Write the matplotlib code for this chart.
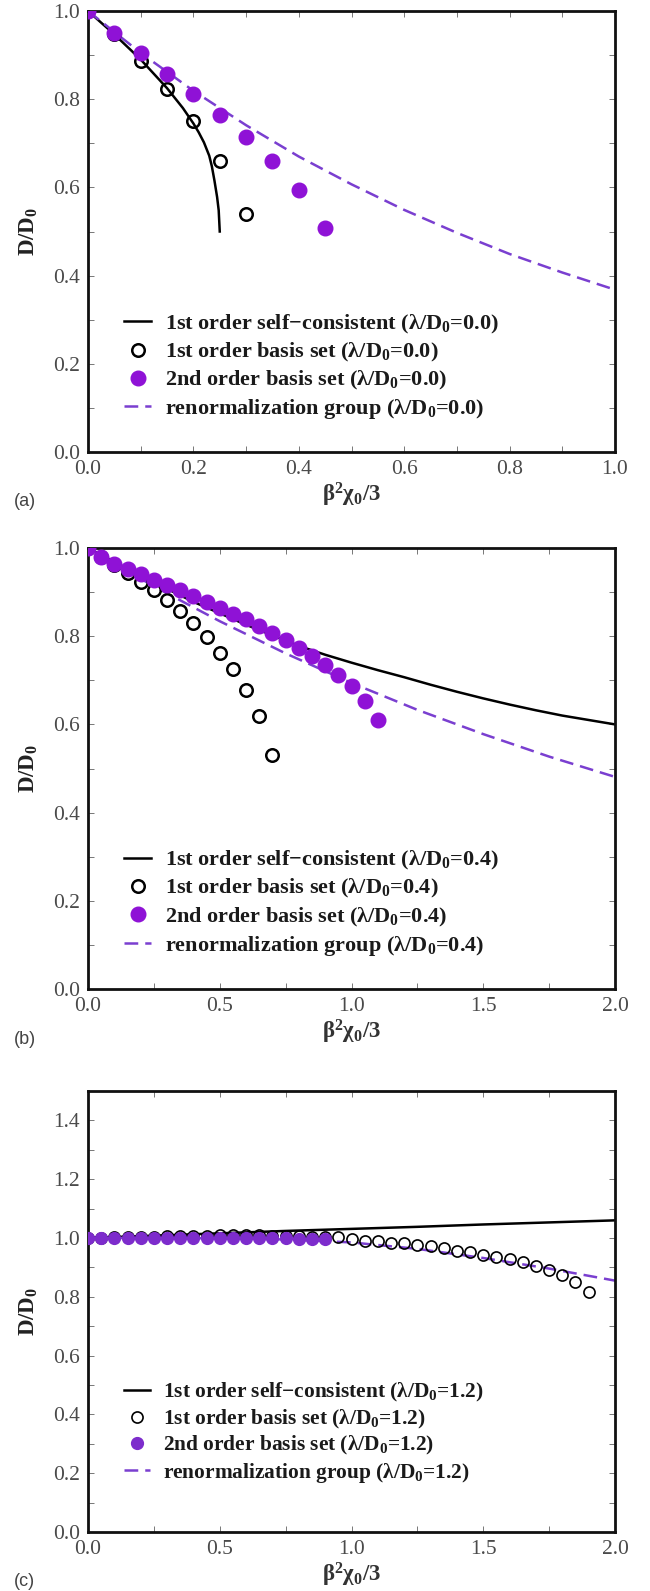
import matplotlib
matplotlib.use("Agg")
import matplotlib.pyplot as plt
from matplotlib.ticker import MultipleLocator, FormatStrFormatter
from matplotlib.legend_handler import HandlerLine2D
from matplotlib.lines import Line2D

plt.rcParams['font.family'] = ['Liberation Serif', 'DejaVu Serif']
plt.rcParams['mathtext.fontset'] = 'custom'
plt.rcParams['mathtext.rm'] = 'Liberation Serif'
plt.rcParams['mathtext.bf'] = 'Liberation Serif:bold'
plt.rcParams['mathtext.it'] = 'Liberation Serif:italic'

# ---------------- Panel (a): lambda/D0 = 0.0 ----------------
a_sc_x = [0.0, 0.05, 0.10, 0.15, 0.18, 0.20, 0.21, 0.22, 0.23, 0.235, 0.24, 0.245, 0.248, 0.25]
a_sc_y = [1.0, 0.947, 0.890, 0.825, 0.780, 0.745, 0.725, 0.702, 0.672, 0.648, 0.615, 0.578,
          0.548, 0.50]
a_b1_x = [0.0, 0.05, 0.10, 0.15, 0.20, 0.25, 0.30]
a_b1_y = [1.0, 0.947, 0.886, 0.824, 0.750, 0.660, 0.540]
a_b2_x = [0.0, 0.05, 0.10, 0.15, 0.20, 0.25, 0.30, 0.35, 0.40, 0.45]
a_b2_y = [1.0, 0.949, 0.905, 0.858, 0.811, 0.764, 0.714, 0.660, 0.595, 0.509]
a_rg_x = [0.0, 0.1, 0.2, 0.3, 0.4, 0.5, 0.6, 0.7, 0.8, 0.9, 1.0]
a_rg_y = [1.0, 0.905, 0.819, 0.741, 0.670, 0.607, 0.549, 0.497, 0.449, 0.407, 0.368]

# ---------------- Panel (b): lambda/D0 = 0.4 ----------------
b_sc_x = [0.0, 0.2, 0.4, 0.6, 0.8, 0.9, 1.0, 1.1, 1.2, 1.3, 1.4, 1.5, 1.6, 1.7, 1.8, 1.9, 2.0]
b_sc_y = [1.0, 0.937, 0.878, 0.826, 0.778, 0.758, 0.740, 0.723, 0.707, 0.690, 0.674, 0.659,
          0.645, 0.632, 0.620, 0.610, 0.600]
b_b1_x = [0.0, 0.05, 0.10, 0.15, 0.20, 0.25, 0.30, 0.35, 0.40, 0.45, 0.50, 0.55, 0.60, 0.65, 0.70]
b_b1_y = [1.0, 0.980, 0.962, 0.943, 0.924, 0.905, 0.882, 0.857, 0.829, 0.799, 0.763, 0.725,
          0.678, 0.619, 0.530]
b_b2_x = [0.0, 0.05, 0.10, 0.15, 0.20, 0.25, 0.30, 0.35, 0.40, 0.45, 0.50, 0.55, 0.60, 0.65,
          0.70, 0.75, 0.80, 0.85, 0.90, 0.95, 1.00, 1.05, 1.10]
b_b2_y = [1.0, 0.980, 0.963, 0.952, 0.940, 0.927, 0.916, 0.904, 0.891, 0.878, 0.864, 0.851,
          0.838, 0.823, 0.808, 0.791, 0.773, 0.756, 0.735, 0.711, 0.686, 0.652, 0.610]
b_rg_x = [0.0, 0.25, 0.5, 0.75, 1.0, 1.25, 1.5, 1.75, 2.0]
b_rg_y = [1.0, 0.913, 0.834, 0.761, 0.694, 0.633, 0.578, 0.527, 0.481]

# ---------------- Panel (c): lambda/D0 = 1.2 ----------------
c_sc_x = [0.0, 0.25, 0.5, 0.75, 1.0, 1.25, 1.5, 1.75, 2.0]
c_sc_y = [1.0, 1.008, 1.016, 1.024, 1.031, 1.038, 1.046, 1.053, 1.060]
c_b1_x = [0.00, 0.05, 0.10, 0.15, 0.20, 0.25, 0.30, 0.35, 0.40, 0.45, 0.50, 0.55, 0.60, 0.65,
          0.70, 0.75, 0.80, 0.85, 0.90, 0.95, 1.00, 1.05, 1.10, 1.15, 1.20, 1.25, 1.30, 1.35,
          1.40, 1.45, 1.50, 1.55, 1.60, 1.65, 1.70, 1.75, 1.80, 1.85, 1.90]
c_b1_y = [1.000, 1.001, 1.002, 1.003, 1.004, 1.005, 1.006, 1.007, 1.008, 1.008, 1.009, 1.009,
          1.009, 1.009, 1.008, 1.008, 1.007, 1.005, 1.004, 1.002, 0.997, 0.991, 0.989, 0.983,
          0.982, 0.976, 0.972, 0.966, 0.957, 0.954, 0.942, 0.937, 0.927, 0.918, 0.906, 0.892,
          0.875, 0.852, 0.816]
c_b2_x = [0.00, 0.05, 0.10, 0.15, 0.20, 0.25, 0.30, 0.35, 0.40, 0.45, 0.50, 0.55, 0.60, 0.65,
          0.70, 0.75, 0.80, 0.85, 0.90]
c_b2_y = [1.0, 1.0, 1.0, 1.0, 1.0, 1.0, 1.0, 1.0, 1.0, 1.0, 1.0, 1.0, 1.0, 0.999, 0.999,
          0.999, 0.998, 0.998, 0.997]
c_rg_x = [0.0, 0.25, 0.5, 0.75, 1.0, 1.25, 1.5, 1.75, 2.0]
c_rg_y = [1.0, 1.0, 0.999, 0.995, 0.985, 0.963, 0.932, 0.896, 0.855]

lam_labels = ["0.0", "0.4", "1.2"]
panel_tags = ["(a)", "(b)", "(c)"]

PURPLE_DOT = '#8f12d6'
PURPLE_DOT_C = '#7d2ccc'
PURPLE_DASH = '#7a3fd0'

W, H = 650, 1591
fig = plt.figure(figsize=(W / 100, H / 100), dpi=100)

ax_left, ax_w = 88 / W, 527 / W
tops = [11, 548, 1091]
ax_h = 441 / H
axes = []
for t in tops:
    axes.append(fig.add_axes([ax_left, 1 - (t + 441) / H, ax_w, ax_h]))


class RightMarkerHandler(HandlerLine2D):
    """Legend handler that puts a single marker at the right end of the handle."""
    def get_xdata(self, legend, xdescent, ydescent, width, height, fontsize):
        xdata = [-xdescent, -xdescent + width]
        xmark = [-xdescent + 0.88 * width]
        return xdata, xmark


def style(ax, xmax, xmaj, xmin, ymax):
    ax.set_xlim(0, xmax)
    ax.set_ylim(0, ymax)
    ax.xaxis.set_major_locator(MultipleLocator(xmaj))
    ax.xaxis.set_minor_locator(MultipleLocator(xmin))
    ax.yaxis.set_major_locator(MultipleLocator(0.2))
    ax.yaxis.set_minor_locator(MultipleLocator(0.1))
    ax.xaxis.set_major_formatter(FormatStrFormatter('%.1f'))
    ax.yaxis.set_major_formatter(FormatStrFormatter('%.1f'))
    ax.tick_params(which='both', direction='in', top=True, right=True, length=4,
                   width=0.7, color='#777777')
    ax.tick_params(which='major', labelsize=15.5, labelcolor='#4a4a4a', pad=6)
    for s in ax.spines.values():
        s.set_linewidth(2.0)
        s.set_color('#111111')
    ax.set_xlabel(r'β$^{\mathbf{2}}$χ$_{\mathbf{0}}$/3', fontsize=16.5, fontweight='bold',
                  color='#333333', labelpad=1)
    ax.set_ylabel(r'D/D$_{\mathbf{0}}$', fontsize=16.5, fontweight='bold', color='#222222',
                  labelpad=9)


def draw(ax, sc, b1, b2, rg, lam, dot_ms, circ_ms, circ_mew, dotc, leg_anchor, leg_fs, lsp):
    ax.plot(sc[0], sc[1], color='black', lw=1.8, zorder=2,
            label=f'1st order self−consistent (λ/D$_\\mathbf{{0}}$={lam})')
    ax.plot(rg[0], rg[1], color=PURPLE_DASH, lw=1.8, ls=(0, (5.5, 2.8)), zorder=2,
            label=f'renormalization group (λ/D$_\\mathbf{{0}}$={lam})')
    ax.plot(b1[0], b1[1], ls='none', marker='o', ms=circ_ms, mfc='none', mec='black',
            mew=circ_mew, zorder=3, label=f'1st order basis set (λ/D$_\\mathbf{{0}}$={lam})')
    ax.plot(b2[0], b2[1], ls='none', marker='o', ms=dot_ms, mfc=dotc, mec=dotc,
            zorder=4, label=f'2nd order basis set (λ/D$_\\mathbf{{0}}$={lam})')
    h, l = ax.get_legend_handles_labels()
    order = [0, 2, 3, 1]
    leg = ax.legend([h[i] for i in order], [l[i] for i in order], loc='lower left',
                    bbox_to_anchor=leg_anchor, frameon=False,
                    handlelength=1.22, handletextpad=0.6, labelspacing=lsp,
                    borderpad=0, borderaxespad=0, numpoints=1,
                    prop={'weight': 'bold', 'size': leg_fs},
                    handler_map={Line2D: RightMarkerHandler()})
    for t in leg.get_texts():
        t.set_color('#1a1a1a')


style(axes[0], 1.0, 0.2, 0.1, 1.0)
draw(axes[0], (a_sc_x, a_sc_y), (a_b1_x, a_b1_y), (a_b2_x, a_b2_y), (a_rg_x, a_rg_y),
     lam_labels[0], 10.5, 9, 1.8, PURPLE_DOT, (0.069, 0.070), 16, 0.23)

style(axes[1], 2.0, 0.5, 0.25, 1.0)
draw(axes[1], (b_sc_x, b_sc_y), (b_b1_x, b_b1_y), (b_b2_x, b_b2_y), (b_rg_x, b_rg_y),
     lam_labels[1], 10.5, 9, 1.8, PURPLE_DOT, (0.069, 0.071), 16, 0.23)

style(axes[2], 2.0, 0.5, 0.25, 1.5)
draw(axes[2], (c_sc_x, c_sc_y), (c_b1_x, c_b1_y), (c_b2_x, c_b2_y), (c_rg_x, c_rg_y),
     lam_labels[2], 8.5, 8, 1.2, PURPLE_DOT_C, (0.069, 0.107), 15.4, 0.16)

for ax, tag, t in zip(axes, panel_tags, tops):
    fig.text(14 / W, 1 - (t + 441 + 50) / H, tag, fontsize=13, color='#444444',
             family='Liberation Sans', va='center', ha='left')

fig.savefig('out.png', dpi=100)
